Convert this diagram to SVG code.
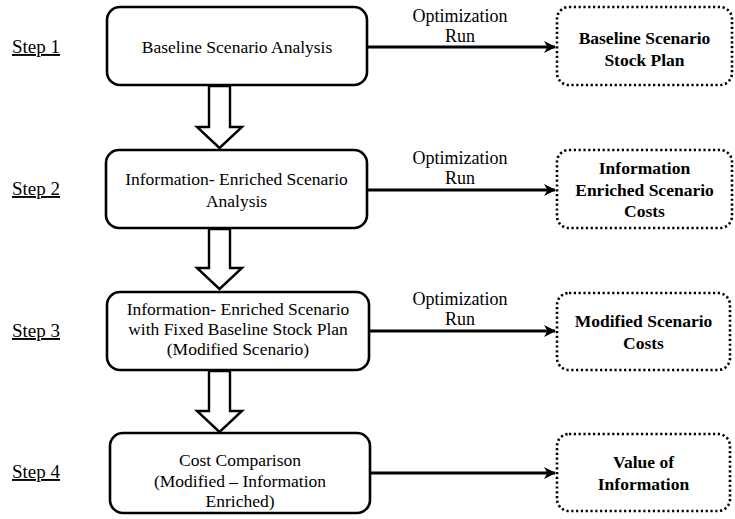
<svg xmlns="http://www.w3.org/2000/svg" width="735" height="519" viewBox="0 0 735 519">
<defs>
<style>
text{font-family:'Liberation Serif','Times New Roman',serif;font-size:17.5px;fill:#000}
.c{text-anchor:middle}
.b{font-weight:bold}
.o{font-size:18px}
.step{text-decoration:underline;font-size:19px}
.box{fill:#fff;stroke:#000;stroke-width:2.6}
.dot{fill:#fff;stroke:#000;stroke-width:2.6;stroke-dasharray:2.2 2.6}
.blk{fill:#fff;stroke:#000;stroke-width:2.4;stroke-linejoin:miter}
.ln{fill:none;stroke:#000;stroke-width:3}
</style>
<marker id="ah" markerWidth="12" markerHeight="12" refX="11" refY="6" orient="auto" markerUnits="userSpaceOnUse" viewBox="0 0 12 12">
<path d="M0,0 L12,6 L0,12 L3.5,6 Z" fill="#000"/>
</marker>
</defs>
<g id="steps">
<text class="step" x="12" y="53">Step 1</text>
<text class="step" x="12" y="195">Step 2</text>
<text class="step" x="12" y="337">Step 3</text>
<text class="step" x="12" y="478">Step 4</text>
</g>
<g id="connectors">
<path class="blk" d="M209,86 L230,86 L230,127 L242,127 L219.5,148 L197,127 L209,127 Z"/>
<path class="blk" d="M209,229 L230,229 L230,268 L242,268 L219.5,289 L197,268 L209,268 Z"/>
<path class="blk" d="M209,371 L230,371 L230,411 L242,411 L219.5,432 L197,411 L209,411 Z"/>
<line class="ln" x1="367" y1="47" x2="555" y2="47" marker-end="url(#ah)"/>
<line class="ln" x1="367" y1="190" x2="555" y2="190" marker-end="url(#ah)"/>
<line class="ln" x1="369" y1="331" x2="555" y2="331" marker-end="url(#ah)"/>
<line class="ln" x1="370" y1="473" x2="555" y2="473" marker-end="url(#ah)"/>
<text class="c o" x="460" y="22">Optimization</text>
<text class="c o" x="460" y="42">Run</text>
<text class="c o" x="460" y="164">Optimization</text>
<text class="c o" x="460" y="184">Run</text>
<text class="c o" x="460" y="305">Optimization</text>
<text class="c o" x="460" y="325">Run</text>
</g>
<g id="n1">
<rect class="box" x="107" y="7" width="260" height="78" rx="13"/>
<text class="c" x="237" y="53">Baseline Scenario Analysis</text>
</g>
<g id="n2">
<rect class="box" x="106" y="150" width="261" height="78" rx="13"/>
<text class="c" x="236.5" y="185">Information- Enriched Scenario</text>
<text class="c" x="236.5" y="207">Analysis</text>
</g>
<g id="n3">
<rect class="box" x="107" y="292" width="262" height="78" rx="13"/>
<text class="c" x="238" y="315">Information- Enriched Scenario</text>
<text class="c" x="238" y="335">with Fixed Baseline Stock Plan</text>
<text class="c" x="238" y="355">(Modified Scenario)</text>
</g>
<g id="n4">
<rect class="box" x="110" y="433" width="260" height="80" rx="13"/>
<text class="c" x="240" y="466">Cost Comparison</text>
<text class="c" x="240" y="487">(Modified – Information</text>
<text class="c" x="240" y="507">Enriched)</text>
</g>
<g id="r1">
<rect class="dot" x="557" y="7" width="175" height="78" rx="12"/>
<text class="c b" x="644.5" y="44">Baseline Scenario</text>
<text class="c b" x="644.5" y="66">Stock Plan</text>
</g>
<g id="r2">
<rect class="dot" x="557" y="150" width="175" height="78" rx="12"/>
<text class="c b" x="644.5" y="174">Information</text>
<text class="c b" x="644.5" y="196">Enriched Scenario</text>
<text class="c b" x="644.5" y="217">Costs</text>
</g>
<g id="r3">
<rect class="dot" x="557" y="293" width="173" height="77" rx="12"/>
<text class="c b" x="643.5" y="327">Modified Scenario</text>
<text class="c b" x="643.5" y="349">Costs</text>
</g>
<g id="r4">
<rect class="dot" x="557" y="434" width="173" height="77" rx="12"/>
<text class="c b" x="643.5" y="468">Value of</text>
<text class="c b" x="643.5" y="490">Information</text>
</g>
</svg>
